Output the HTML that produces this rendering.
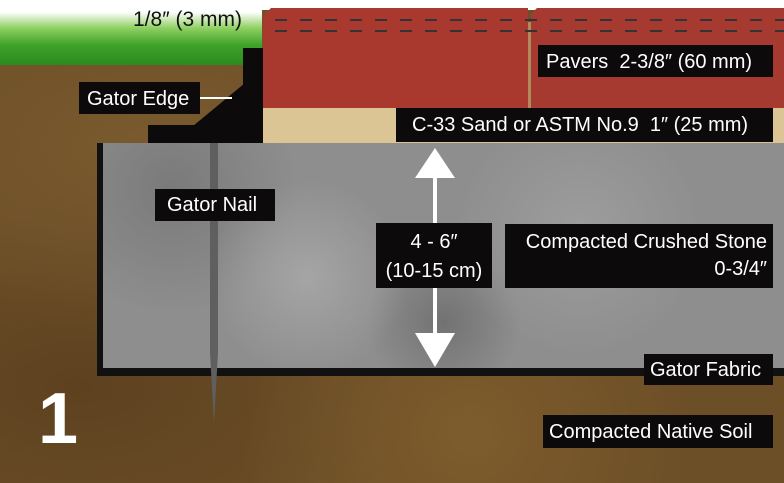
<!DOCTYPE html>
<html><head><meta charset="utf-8"><style>
*{margin:0;padding:0;box-sizing:border-box}
body{width:784px;height:483px;overflow:hidden;position:relative;background:#6a4c26;font-family:"Liberation Sans Narrow","Liberation Sans",sans-serif}
div{position:absolute}
.soil{left:0;top:0;width:784px;height:483px;background:
radial-gradient(ellipse at 20% 30%,#7a5a2e 0,transparent 40%),
radial-gradient(ellipse at 60% 90%,#7d5c2c 0,transparent 35%),
radial-gradient(ellipse at 10% 80%,#5e4220 0,transparent 35%),#6c4e27}
.lab{background:#0d0a0b;color:#fff;font-size:20px;line-height:1.1;white-space:nowrap}
</style></head><body>
<div class="soil"></div>
<div style="left:0;top:0;width:784px;height:10px;background:#fff"></div>
<div style="left:0;top:0;width:262px;height:65px;background:linear-gradient(#fff 0,#fff 12px,#8fd062 28px,#3fa32a 45px,#2c8a1e 65px)"></div>
<!-- pavers -->
<div style="left:263px;top:8px;width:265px;height:100px;background:#a9392f;clip-path:polygon(8px 0,100% 0,100% 100%,0 100%,0 8px)"></div>
<div style="left:531px;top:8px;width:253px;height:100px;background:#a73a30;clip-path:polygon(6px 0,100% 0,100% 100%,0 100%,0 6px)"></div>
<div style="left:528px;top:22px;width:3px;height:86px;background:#b08a5a"></div>
<div style="left:275px;top:19px;width:509px;height:2px;background:repeating-linear-gradient(90deg,#333 0 12px,transparent 12px 25px)"></div>
<div style="left:275px;top:30px;width:509px;height:2px;background:repeating-linear-gradient(90deg,#333 0 12px,transparent 12px 25px)"></div>
<!-- sand -->
<div style="left:263px;top:108px;width:521px;height:36px;background:#dcc594"></div>
<!-- stone -->
<div style="left:97px;top:143px;width:687px;height:233px;background:#111"></div>
<div style="left:103px;top:143px;width:681px;height:225px;background:
radial-gradient(circle at 30% 60%,#a5a5a5 0,transparent 20%),
radial-gradient(circle at 70% 40%,#9d9d9d 0,transparent 25%),
radial-gradient(circle at 50% 80%,#727272 0,transparent 20%),
radial-gradient(circle at 10% 20%,#7a7a7a 0,transparent 20%),#8e8e8e"></div>
<!-- gator edge -->
<div style="left:243px;top:48px;width:20px;height:95px;background:#0d0a0b"></div>
<div style="left:148px;top:125px;width:115px;height:18px;background:#0d0a0b"></div>
<div style="left:193px;top:83px;width:52px;height:43px;background:#0d0a0b;clip-path:polygon(100% 0,100% 100%,0 100%)"></div>
<div style="left:200px;top:97px;width:32px;height:2px;background:#fff"></div>
<!-- nail -->
<div style="left:210px;top:143px;width:8px;height:280px;background:#5f5f5f;clip-path:polygon(0 0,100% 0,100% 75%,50% 100%,0 75%)"></div>
<!-- arrow -->
<div style="left:433px;top:170px;width:4px;height:170px;background:#fff"></div>
<div style="left:415px;top:148px;width:40px;height:30px;background:#fff;clip-path:polygon(50% 0,100% 100%,0 100%)"></div>
<div style="left:415px;top:333px;width:40px;height:34px;background:#fff;clip-path:polygon(0 0,100% 0,50% 100%)"></div>
<!-- labels -->
<div style="left:133px;top:8px;font-size:21px;color:#111">1/8″ (3 mm)</div>
<div class="lab" style="left:79px;top:82px;width:121px;height:32px;padding:6px 0 0 8px">Gator Edge</div>
<div class="lab" style="left:538px;top:45px;width:235px;height:32px;padding:6px 0 0 8px">Pavers&nbsp; 2-3/8″ (60 mm)</div>
<div class="lab" style="left:396px;top:108px;width:377px;height:34px;padding:6px 0 0 16px">C-33 Sand or ASTM No.9&nbsp; 1″ (25 mm)</div>
<div class="lab" style="left:155px;top:189px;width:120px;height:32px;padding:5px 0 0 12px">Gator Nail</div>
<div class="lab" style="left:376px;top:223px;width:116px;height:65px;padding:5px 0 0 0;text-align:center;line-height:29px">4 - 6″<br>(10-15 cm)</div>
<div class="lab" style="left:505px;top:224px;width:268px;height:64px;padding:5px 6px 0 0;text-align:right;line-height:27px">Compacted Crushed Stone<br>0-3/4″</div>
<div class="lab" style="left:644px;top:354px;width:129px;height:31px;padding:5px 0 0 6px">Gator Fabric</div>
<div class="lab" style="left:543px;top:415px;width:230px;height:33px;padding:6px 0 0 6px">Compacted Native Soil</div>
<div style="left:38px;top:378px;font-family:'Liberation Sans',sans-serif;font-weight:bold;font-size:72px;color:#fff">1</div>
</body></html>
